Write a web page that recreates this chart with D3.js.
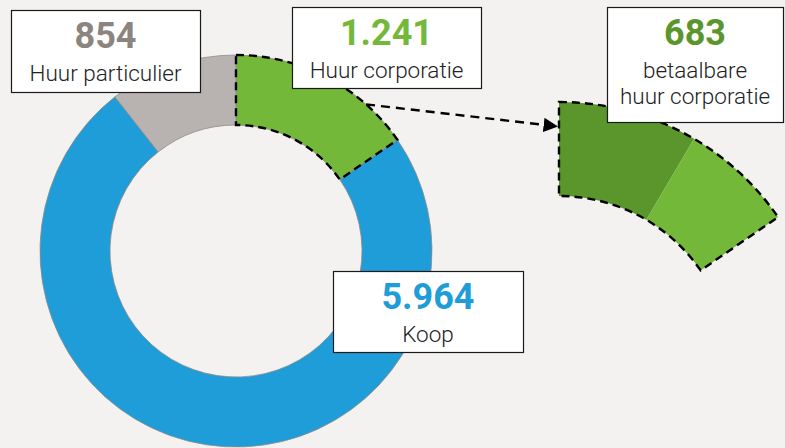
<!DOCTYPE html>
<html>
<head>
<meta charset="utf-8">
<script src="https://cdn.jsdelivr.net/npm/d3@7"></script>
<style>
  body { margin: 0; background: #f3f2f0; }
  svg { display: block; font-family: Roboto, "DejaVu Sans", sans-serif; }
</style>
</head>
<body>
<div id="chart"></div>
<script>
// woningvoorraad naar eigendom
var categories = ["Huur corporatie", "Koop", "Huur particulier"];
var values = [1241, 5964, 854];
var colours = ["#74b83a", "#1f9dd9", "#b8b3b0"];
var numColours = ["#74b83a", "#1f9dd9", "#8c847f"];

// uitsplitsing huur corporatie
var subCategories = ["betaalbare huur corporatie", "overig"];
var subValues = [683, 1241 - 683];
var subColours = ["#5b962c", "#74b83a"];

var width = 785, height = 448;

var svg = d3.select("#chart")
    .append("svg")
    .attr("width", width)
    .attr("height", height);

svg.append("rect")
    .attr("width", width).attr("height", height)
    .attr("fill", "#f3f2f0");

// main donut
var cx = 236, cy = 251, outerR = 196, innerR = 126;

var pie = d3.pie().sort(null).value(d => d);
var arcs = pie(values);
var arc = d3.arc().innerRadius(innerR).outerRadius(outerR);

var main = svg.append("g")
    .attr("transform", "translate(" + cx + "," + cy + ")");

main.selectAll("path.slice")
    .data(arcs)
    .join("path")
    .attr("class", "slice")
    .attr("d", arc)
    .attr("fill", (d, i) => colours[i])
    .attr("stroke", "#8f8a86")
    .attr("stroke-width", 0.8);

// dashed outline round the corporatie slice
main.append("path")
    .attr("d", arc(arcs[0]))
    .attr("fill", "none")
    .attr("stroke", "#000")
    .attr("stroke-width", 2.4)
    .attr("stroke-dasharray", "8,5");

// enlarged piece on the right
var px = 559, py = 368, pOuter = 266, pInner = 172;
var subPie = d3.pie().sort(null).value(d => d)
    .startAngle(0).endAngle(arcs[0].endAngle);
var subArcs = subPie(subValues);
var subArc = d3.arc().innerRadius(pInner).outerRadius(pOuter);

var piece = svg.append("g")
    .attr("transform", "translate(" + px + "," + py + ")");

piece.selectAll("path.sub")
    .data(subArcs)
    .join("path")
    .attr("class", "sub")
    .attr("d", subArc)
    .attr("fill", (d, i) => subColours[i]);

piece.append("path")
    .attr("d", subArc({startAngle: 0, endAngle: arcs[0].endAngle}))
    .attr("fill", "none")
    .attr("stroke", "#000")
    .attr("stroke-width", 2.4)
    .attr("stroke-dasharray", "8,5");

// arrow
svg.append("defs").append("marker")
    .attr("id", "head")
    .attr("viewBox", "0 0 10 10")
    .attr("refX", 10).attr("refY", 5)
    .attr("markerWidth", 6).attr("markerHeight", 7)
    .attr("markerUnits", "strokeWidth")
    .attr("orient", "auto")
    .append("path")
    .attr("d", "M0,0L10,5L0,10Z")
    .attr("fill", "#000");

var a0 = arcs[0].endAngle * 0.75;
var x0 = cx + outerR * Math.sin(a0), y0 = cy - outerR * Math.cos(a0);
var x1 = px - 1, y1 = py - (pInner + (pOuter - pInner) * 0.74);

svg.append("line")
    .attr("x1", x0).attr("y1", y0)
    .attr("x2", x1).attr("y2", y1)
    .attr("stroke", "#000")
    .attr("stroke-width", 2.4)
    .attr("stroke-dasharray", "9,6")
    .attr("marker-end", "url(#head)");

// label boxes
var labels = [
    {x: 11, y: 10, w: 189, h: 82, num: "854", lines: ["Huur particulier"], col: numColours[2]},
    {x: 292, y: 7, w: 189, h: 81, num: "1.241", lines: ["Huur corporatie"], col: numColours[0]},
    {x: 607, y: 7, w: 176, h: 115, num: "683", lines: ["betaalbare", "huur corporatie"], col: subColours[0]},
    {x: 333, y: 271, w: 190, h: 81, num: "5.964", lines: ["Koop"], col: numColours[1]}
];

var box = svg.selectAll("g.label")
    .data(labels)
    .join("g")
    .attr("class", "label")
    .attr("transform", d => "translate(" + d.x + "," + d.y + ")");

box.append("rect")
    .attr("x", 0.5).attr("y", 0.5)
    .attr("width", d => d.w).attr("height", d => d.h)
    .attr("fill", "#fff")
    .attr("stroke", "#1a1a1a")
    .attr("stroke-width", 1.2);

box.append("text")
    .attr("x", d => d.w / 2)
    .attr("y", 38)
    .attr("text-anchor", "middle")
    .attr("font-size", 36)
    .attr("font-weight", "bold")
    .attr("fill", d => d.col)
    .text(d => d.num);

box.each(function (d) {
    d3.select(this).selectAll("text.sub")
        .data(d.lines)
        .join("text")
        .attr("class", "sub")
        .attr("x", d.w / 2)
        .attr("y", (t, i) => 71 + i * 26)
        .attr("text-anchor", "middle")
        .attr("font-size", 22.5)
        .attr("font-weight", 300)
        .attr("fill", "#222")
        .text(t => t);
});
</script>
</body>
</html>
